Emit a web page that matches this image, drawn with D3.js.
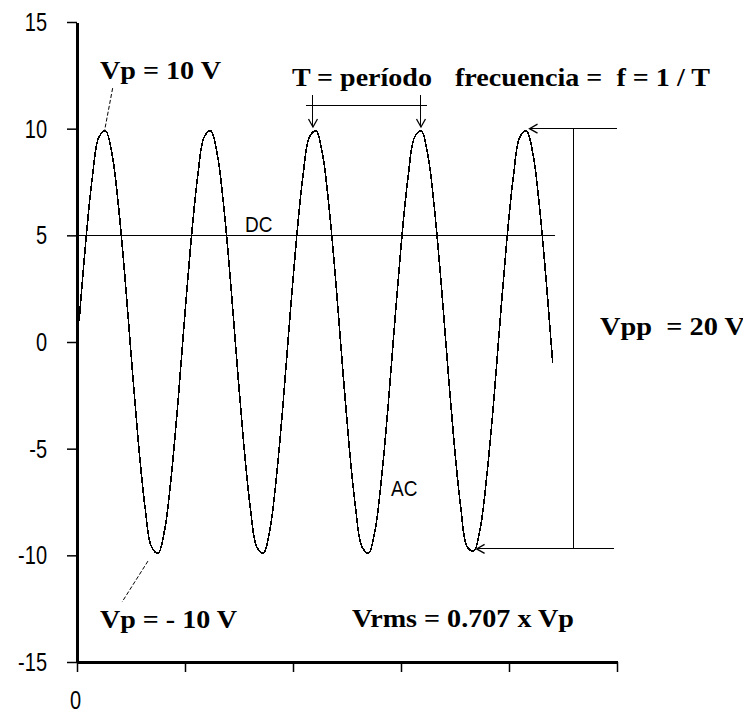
<!DOCTYPE html>
<html>
<head>
<meta charset="utf-8">
<script src="https://cdn.jsdelivr.net/npm/d3@7"></script>
<style>
  html, body { margin: 0; padding: 0; background: #fff; }
  svg { display: block; }
</style>
</head>
<body>
<svg id="chart" width="743" height="716"></svg>
<script>
// Axis ticks
const timeTicks = [0, 1, 2, 3, 4, 5];
const timeTickLabels = ["0", "", "", "", "", ""];
const voltTicks = [15, 10, 5, 0, -5, -10, -15];
const voltTickLabels = ["15", "10", "5", "0", "-5", "-10", "-15"];

// AC waveform, volts, sampled at equal time steps
const sampleStart = 0.02;
const sampleStep = 0.0609;
const acVolts = [
  1.0, 4.7, 7.7, 9.6, 9.9, 8.8, 6.3, 2.9, -1.0, -4.7, -7.7, -9.6, -9.9, -8.8, -6.3, -2.9,
  1.0, 4.7, 7.7, 9.6, 9.9, 8.8, 6.3, 2.9, -1.0, -4.7, -7.7, -9.6, -9.9, -8.8, -6.3, -2.9,
  1.0, 4.7, 7.7, 9.6, 9.9, 8.8, 6.3, 2.9, -1.0, -4.7, -7.7, -9.6, -9.9, -8.8, -6.3, -2.9,
  1.0, 4.7, 7.7, 9.6, 9.9, 8.8, 6.3, 2.9, -1.0, -4.7, -7.7, -9.6, -9.8, -8.7, -6.2, -2.9,
  1.0, 4.7, 7.7, 9.6, 9.9, 8.8, 6.3, 2.9, -1.0
];

// DC level and the time span it is drawn over
const dcVolts = 5;
const dcSpan = [0, 4.43];

// Annotation anchors (time, volts)
const peakLeader = [[0.33, 11.9], [0.255, 9.9]];
const troughLeader = [[0.657, -10.27], [0.417, -12.19]];
const periodArrowTimes = [2.185, 3.185];
const periodBar = { from: 2.12, to: 3.24, level: 11.1, top: 11.58, tip: 10.08 };
const vppTop = { tip: 4.19, end: 5.0, level: 10.0 };
const vppBottom = { tip: 3.70, end: 4.97, level: -9.7 };
const vppBarTime = 4.593;

const labels = [
  { text: "Vp = 10 V",               t: 0.213, v: 12.33,  width: 121 },
  { text: "Vp = - 10 V",             t: 0.213, v: -13.4,  width: 137 },
  { text: "T = período",             t: 1.99,  v: 12.0,   width: 140 },
  { text: "frecuencia =  f = 1 / T", t: 3.50,  v: 12.0,   width: 255 },
  { text: "Vpp  = 20 V",             t: 4.843, v: 0.33,   width: 145 },
  { text: "Vrms = 0.707 x Vp",       t: 2.546, v: -13.36, width: 222 }
];
const seriesLabels = [
  { text: "DC", t: 1.556, v: 5.15 },
  { text: "AC", t: 2.907, v: -7.22 }
];

const svg = d3.select("#chart");

const x = d3.scaleLinear().domain([0, 5]).range([77, 617]);
const y = d3.scaleLinear().domain([-15, 15]).range([662, 22]);

const sansFont = "'Liberation Sans', Arial, sans-serif";
const serifFont = "'Liberation Serif', 'Times New Roman', serif";

// Y axis
const yAxis = svg.append("g")
  .attr("transform", `translate(${x(0)},0)`)
  .call(d3.axisLeft(y)
    .tickValues(voltTicks)
    .tickFormat((d, i) => voltTickLabels[i])
    .tickSize(10)
    .tickSizeOuter(0)
    .tickPadding(20));
yAxis.select(".domain").attr("stroke", "#000").attr("stroke-width", 2.5);
yAxis.selectAll(".tick line").attr("stroke", "#000").attr("stroke-width", 1.5);
yAxis.selectAll(".tick text")
  .attr("fill", "#000")
  .attr("font-family", sansFont)
  .attr("font-size", 20)
  .attr("transform", "scale(1,1.3)");

// X axis
const xAxis = svg.append("g")
  .attr("transform", `translate(0,${y(-15)})`)
  .call(d3.axisBottom(x)
    .tickValues(timeTicks)
    .tickFormat((d, i) => timeTickLabels[i])
    .tickSize(10)
    .tickSizeOuter(0));
xAxis.select(".domain").attr("stroke", "#000").attr("stroke-width", 2.5);
xAxis.selectAll(".tick line").attr("stroke", "#000").attr("stroke-width", 1.5);
xAxis.selectAll(".tick text")
  .attr("fill", "#000")
  .attr("font-family", sansFont)
  .attr("font-size", 20)
  .attr("y", 0)
  .attr("dy", 0)
  .attr("transform", "translate(-2,47) scale(1,1.3)");
svg.selectAll(".domain").attr("shape-rendering", "crispEdges");

// DC level
svg.append("line")
  .attr("x1", x(dcSpan[0])).attr("x2", x(dcSpan[1]))
  .attr("y1", y(dcVolts)).attr("y2", y(dcVolts))
  .attr("stroke", "#000").attr("stroke-width", 1)
  .attr("shape-rendering", "crispEdges");

// AC waveform
const wave = d3.line()
  .x((d, i) => x(sampleStart + i * sampleStep))
  .y(d => y(d))
  .curve(d3.curveCatmullRom.alpha(0.5));
svg.append("path")
  .datum(acVolts)
  .attr("d", wave)
  .attr("fill", "none")
  .attr("stroke", "#000")
  .attr("stroke-width", 1.6)
  .attr("shape-rendering", "crispEdges");

// Annotation lines
const ann = svg.append("g")
  .attr("fill", "none")
  .attr("stroke", "#000")
  .attr("stroke-width", 1);
const pt = p => [x(p[0]), y(p[1])];
const seg = (a, b, dash) => {
  const l = ann.append("line")
    .attr("x1", a[0]).attr("y1", a[1])
    .attr("x2", b[0]).attr("y2", b[1]);
  if (dash) l.attr("stroke-dasharray", dash);
  return l;
};
// open arrowhead; angle in degrees, 0 = pointing down
const arrowHead = (tip, angle) => {
  ann.append("path")
    .attr("d", "M-4.5,-8L0,0L4.5,-8")
    .attr("transform", `translate(${tip[0]},${tip[1]}) rotate(${angle})`)
    .attr("stroke-width", 1.3);
};

seg(pt(peakLeader[0]), pt(peakLeader[1]), "4,2");
seg(pt(troughLeader[0]), pt(troughLeader[1]), "4,2");

// period bracket
seg([x(periodBar.from), y(periodBar.level)], [x(periodBar.to), y(periodBar.level)])
  .attr("shape-rendering", "crispEdges");
periodArrowTimes.forEach(t => {
  seg([x(t), y(periodBar.top)], [x(t), y(periodBar.tip)]).attr("shape-rendering", "crispEdges");
  arrowHead([x(t), y(periodBar.tip)], 0);
});

// peak-to-peak bracket
seg([x(vppTop.tip), y(vppTop.level)], [x(vppTop.end), y(vppTop.level)]).attr("shape-rendering", "crispEdges");
seg([x(vppBottom.tip), y(vppBottom.level)], [x(vppBottom.end), y(vppBottom.level)]).attr("shape-rendering", "crispEdges");
seg([x(vppBarTime), y(vppTop.level)], [x(vppBarTime), y(vppBottom.level)]).attr("shape-rendering", "crispEdges");
arrowHead([x(vppTop.tip), y(vppTop.level)], 90);
arrowHead([x(vppBottom.tip), y(vppBottom.level)], 90);

// Bold annotation text
svg.append("g").selectAll("text")
  .data(labels)
  .join("text")
  .attr("x", d => x(d.t))
  .attr("y", d => y(d.v))
  .attr("font-family", serifFont)
  .attr("font-weight", "bold")
  .attr("font-size", 26)
  .attr("fill", "#000")
  .attr("textLength", d => d.width)
  .attr("lengthAdjust", "spacingAndGlyphs")
  .style("white-space", "pre")
  .text(d => d.text);

// Series labels
svg.append("g").selectAll("text")
  .data(seriesLabels)
  .join("text")
  .attr("transform", d => `translate(${x(d.t)},${y(d.v)}) scale(1,1.15)`)
  .attr("font-family", sansFont)
  .attr("font-size", 19)
  .attr("fill", "#000")
  .text(d => d.text);
</script>
</body>
</html>
